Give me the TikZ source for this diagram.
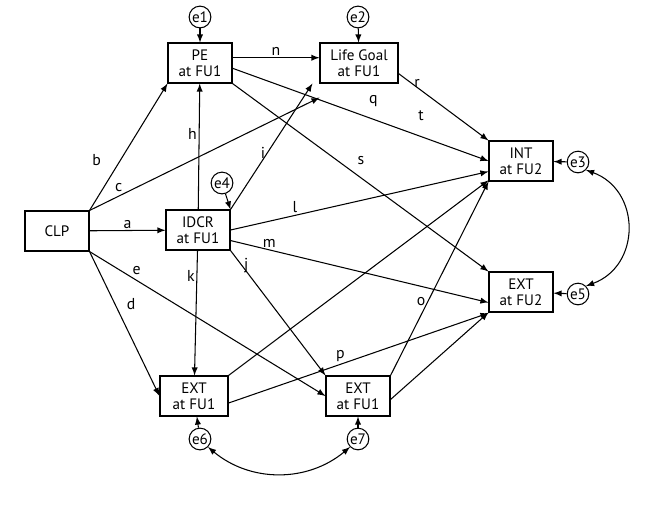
\documentclass[tikz,border=0pt]{standalone}
\usepackage{fontspec}
\setmainfont{PT Sans}
\usetikzlibrary{arrows}
\tikzset{>=latex}
\tikzset{
    block/.style = {draw, rectangle, align=center, inner sep=1pt,
        minimum height=0.8cm,
        minimum width=1.28cm},
    err/.style = {draw, circle, inner sep=0.5pt, minimum size=0.4cm},
    lbl/.style = {font=\fontsize{9}{10}\selectfont, inner sep=1pt}
}
\begin{document}
\begin{tikzpicture}[x=0.02cm, y=-0.02cm, semithick, font=\fontsize{8.6}{9}\selectfont]
            \useasboundingbox (0,0) rectangle (655,511);
            \node [block] (clp) at (57,231) {CLP};
            \node [block] (pe) at (200,63) {PE\\at FU1};
            \node [block, minimum width=1.56cm] (goal) at (359,63) {Life Goal\\at FU1};
            \node [block] (int) at (521,161) {INT\\at FU2};
            \node [block] (idcr) at (198,230) {IDCR\\at FU1};
            \node [block] (ext2) at (521,292) {EXT\\at FU2};
            \node [block, minimum width=1.36cm] (exta) at (194,396) {EXT\\at FU1};
            \node [block] (extb) at (358,396) {EXT\\at FU1};
            \node [err] (e1) at (200,17) {e1};
            \node [err] (e2) at (358,17) {e2};
            \node [err] (e3) at (578,162) {e3};
            \node [err] (e4) at (222,183) {e4};
            \node [err] (e5) at (578,294) {e5};
            \node [err] (e6) at (200,439) {e6};
            \node [err] (e7) at (358,439) {e7};
            % error terms
            \draw [->] (e1) -- (pe);
            \draw [->] (e2) -- (goal);
            \draw [->] (e3) -- (int);
            \draw [->] (e4) -- (idcr.north east);
            \draw [->] (e5) -- (ext2);
            \draw [->] (e6) -- (exta);
            \draw [->] (e7) -- (extb);
            \draw [<->] (e3.south east) to [out=-20, in=20, looseness=1.3] (e5.north east);
            \draw [<->] (e6.south east) to [out=-40, in=-140] (e7.south west);
            % paths from CLP
            \draw [->] (clp.north east) -- node [lbl, left, pos=0.4, xshift=-10pt] {b} (pe.south west);
            \draw [->] (clp.north east) -- node [lbl, above, pos=0.15, xshift=-3pt] {c} ([yshift=-8pt]goal.south west);
            \draw [->] (clp) -- node [lbl, above] {a} (idcr);
            \draw [->] (clp.south east) -- node [lbl, right, pos=0.4, xshift=4pt, yshift=3pt] {d} (exta.west);
            \draw [->] (clp.south east) -- node [lbl, above, pos=0.2, yshift=2pt] {e} (extb.west);
            % paths from IDCR
            \draw [->] (idcr) -- node [lbl, left, pos=0.6] {h} (pe);
            \draw [->] (idcr.north east) -- node [lbl, left, pos=0.45] {i} ([xshift=-4pt]goal.south west);
            \draw [->] (idcr) -- node [lbl, left, pos=0.2] {k} (exta);
            \draw [->] (idcr.south east) -- node [lbl, right, pos=0.12] {j} (extb.north west);
            \draw [->] (idcr.east) -- node [lbl, above, pos=0.25] {l} ([yshift=-6pt]int.west);
            \draw [->] ([yshift=-6pt]idcr.east) -- node [lbl, above, pos=0.15] {m} ([yshift=-6pt]ext2.west);
            % paths from PE and Life Goal
            \draw [->] ([yshift=3pt]pe.east) -- node [lbl, above] {n} ([yshift=3pt]goal.west);
            \draw [->] ([yshift=-3pt]pe.east) -- node [lbl, above, pos=0.55, yshift=6pt] {q} (int.west);
            \draw [->] (pe.south east) -- node [lbl, above right, pos=0.48, yshift=4pt] {s} (ext2.north west);
            \draw [->] ([yshift=-6pt]goal.east) -- node [lbl, right, pos=0.15] {r} (int.north west);
            \node [lbl] (tlbl) at (421,116) {t};
            % paths from EXT at FU1
            \draw [->] (exta.north east) -- ([yshift=-11pt]int.west);
            \draw [->] ([yshift=-4pt]exta.east) -- node [lbl, above, pos=0.43] {p} ([yshift=-12pt]ext2.west);
            \draw [->] (extb.north east) -- node [lbl, left, pos=0.38] {o} (int.south west);
            \draw [->] ([yshift=-2pt]extb.east) -- (ext2.south west);
        \end{tikzpicture}
\end{document}
